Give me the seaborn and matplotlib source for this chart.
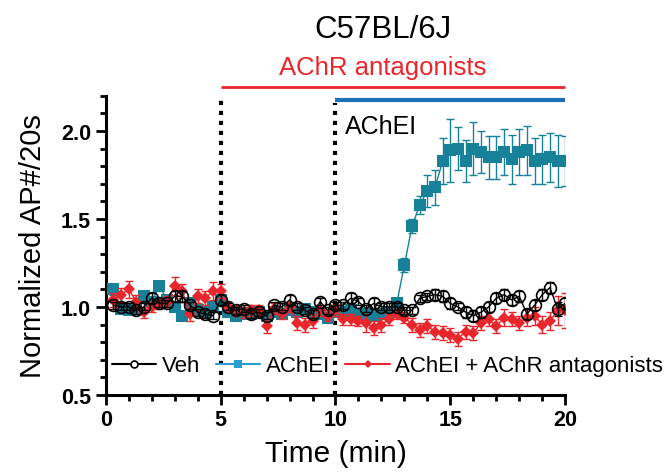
import numpy as np
import pandas as pd
import seaborn as sns
import matplotlib.pyplot as plt
from matplotlib.lines import Line2D
from matplotlib.ticker import MultipleLocator

# time points, one every 20 s
t = np.arange(1, 61) / 3.0

veh = [1.01, 1.00, 1.00, 0.98, 1.00, 1.05, 1.02, 1.02, 1.06, 1.06, 1.01, 0.97, 0.96, 0.95, 1.04,
       1.00, 0.98, 0.99, 0.96, 0.97, 0.95, 1.01, 1.00, 1.04, 1.00, 0.98, 0.96, 1.03, 0.98, 1.01,
       1.01, 1.05, 1.03, 0.99, 1.02, 1.00, 1.00, 1.00, 0.98, 0.98, 1.05, 1.06, 1.07, 1.06, 1.02,
       1.00, 0.97, 0.95, 0.97, 1.00, 1.05, 1.07, 1.04, 1.06, 0.96, 1.01, 1.07, 1.11, 0.99, 1.02]
veh_err = [0.02, 0.02, 0.02, 0.02, 0.02, 0.03, 0.02, 0.02, 0.03, 0.03, 0.02, 0.02, 0.02, 0.02, 0.03,
           0.02, 0.02, 0.02, 0.02, 0.02, 0.02, 0.02, 0.02, 0.03, 0.02, 0.02, 0.02, 0.02, 0.02, 0.02,
           0.02, 0.03, 0.02, 0.02, 0.03, 0.02, 0.02, 0.02, 0.02, 0.02, 0.02, 0.02, 0.03, 0.03, 0.03,
           0.02, 0.03, 0.03, 0.03, 0.03, 0.03, 0.03, 0.03, 0.03, 0.03, 0.03, 0.03, 0.03, 0.04, 0.03]

achei = [1.10, 0.99, 0.98, 0.99, 1.06, 1.03, 1.12, 1.04, 1.00, 0.95, 1.02, 0.98, 0.97, 1.00, 1.04,
         0.97, 0.95, 0.96, 0.96, 0.97, 0.95, 0.97, 0.96, 0.98, 0.97, 0.99, 0.97, 0.96, 0.94, 0.97,
         0.97, 0.98, 0.96, 0.96, 0.95, 0.96, 0.97, 1.02,
         1.24, 1.46, 1.58, 1.66, 1.68, 1.83, 1.89, 1.90, 1.83, 1.90, 1.88, 1.85, 1.85, 1.88, 1.84,
         1.88, 1.89, 1.83, 1.84, 1.85, 1.83, 1.83]
achei_err = [0.03, 0.02, 0.02, 0.02, 0.03, 0.02, 0.03, 0.02, 0.02, 0.02, 0.02, 0.02, 0.02, 0.02, 0.03,
             0.02, 0.02, 0.02, 0.02, 0.02, 0.02, 0.02, 0.02, 0.02, 0.02, 0.02, 0.02, 0.02, 0.02, 0.02,
             0.02, 0.02, 0.02, 0.02, 0.02, 0.02, 0.02, 0.03,
             0.04, 0.04, 0.05, 0.09, 0.10, 0.13, 0.18, 0.12, 0.12, 0.15, 0.12, 0.12, 0.12, 0.13, 0.14,
             0.13, 0.14, 0.13, 0.14, 0.14, 0.15, 0.14]

combo = [1.04, 1.07, 1.10, 1.03, 0.97, 1.00, 1.02, 1.03, 1.12, 1.09, 0.96, 1.06, 1.05, 1.09, 1.09,
         1.00, 0.98, 0.97, 0.98, 0.98, 0.89, 0.99, 0.96, 1.00, 0.91, 0.90, 0.92, 0.98, 0.95, 0.98,
         0.93, 0.93, 0.92, 0.91, 0.88, 0.90, 0.93, 0.96, 0.94, 0.90, 0.87, 0.89, 0.86, 0.85, 0.84,
         0.82, 0.86, 0.85, 0.91, 0.93, 0.89, 0.94, 0.93, 0.91, 0.94, 0.95, 0.90, 0.92, 0.98, 0.98]
combo_err = [0.04, 0.04, 0.05, 0.04, 0.03, 0.03, 0.03, 0.03, 0.05, 0.04, 0.04, 0.04, 0.04, 0.05, 0.04,
             0.03, 0.03, 0.03, 0.03, 0.03, 0.04, 0.03, 0.03, 0.03, 0.04, 0.04, 0.04, 0.03, 0.03, 0.03,
             0.03, 0.03, 0.03, 0.05, 0.04, 0.04, 0.03, 0.03, 0.03, 0.04, 0.04, 0.04, 0.04, 0.04, 0.04,
             0.04, 0.04, 0.04, 0.04, 0.04, 0.04, 0.05, 0.04, 0.04, 0.05, 0.05, 0.05, 0.05, 0.08, 0.10]

df = pd.DataFrame({'t': t, 'veh': veh, 'achei': achei, 'combo': combo})

teal = '#17819a'
red = '#e8262b'
blue = '#1b72b8'

sns.set_style('ticks')
plt.rcParams['font.family'] = ['Liberation Sans', 'DejaVu Sans']
for k in ['text.color', 'axes.labelcolor', 'xtick.color', 'ytick.color', 'axes.edgecolor']:
    plt.rcParams[k] = 'black'

fig = plt.figure(figsize=(6.65, 4.77), dpi=100)
ax = fig.add_axes([0.159, 0.17, 0.691, 0.627])

# AChEI
ax.errorbar(t, achei, yerr=achei_err, fmt='none', ecolor=teal, elinewidth=1, capsize=3, capthick=1, zorder=2)
sns.lineplot(data=df, x='t', y='achei', ax=ax, color=teal, linewidth=1, marker='s', markersize=8.5,
             markeredgewidth=0, zorder=3)
# AChEI + AChR antagonists
ax.errorbar(t, combo, yerr=combo_err, fmt='none', ecolor=red, elinewidth=1, capsize=3, capthick=1, zorder=4)
sns.lineplot(data=df, x='t', y='combo', ax=ax, color=red, linewidth=1, marker='D', markersize=6.5,
             markeredgewidth=0, zorder=5)
# Veh
ax.errorbar(t, veh, yerr=veh_err, fmt='none', ecolor='black', elinewidth=1, capsize=3, capthick=1, zorder=6)
sns.lineplot(data=df, x='t', y='veh', ax=ax, color='black', linewidth=1, marker='o', markersize=8.5,
             markerfacecolor='none', markeredgecolor='black', markeredgewidth=1.2, zorder=7)

ax.set_xlim(0, 20)
ax.set_ylim(0.5, 2.2)
ax.xaxis.set_major_locator(MultipleLocator(5))
ax.xaxis.set_minor_locator(MultipleLocator(1))
ax.yaxis.set_major_locator(MultipleLocator(0.5))
ax.yaxis.set_minor_locator(MultipleLocator(0.1))
ax.tick_params(which='major', length=7, width=2, labelsize=15.5, direction='out', color='black',
               labelcolor='black')
ax.tick_params(which='minor', length=4, width=2, direction='out', color='black')
for lab in ax.get_xticklabels() + ax.get_yticklabels():
    lab.set_fontweight('bold')
sns.despine(ax=ax)
for s in ['left', 'bottom']:
    ax.spines[s].set_linewidth(2.2)
    ax.spines[s].set_color('black')

ax.set_xlabel('Time (min)', fontsize=21.5, labelpad=6, color='black')
ax.set_ylabel('Normalized AP#/20s', fontsize=21, labelpad=10, color='black')

# treatment onsets
ax.axvline(5, ymin=0, ymax=1.0, color='black', linewidth=3, linestyle=(0, (1, 1.4)), zorder=1)
ax.axvline(10, ymin=0, ymax=0.975, color='black', linewidth=3, linestyle=(0, (1, 1.4)), zorder=1)

# treatment bars
ax.plot([5, 20], [2.251, 2.251], color=red, linewidth=2, clip_on=False, solid_capstyle='butt')
ax.plot([10, 20], [2.177, 2.177], color=blue, linewidth=3, clip_on=False, solid_capstyle='butt')
ax.text(10.4, 2.03, 'AChEI', fontsize=18, va='center', ha='left', color='black')
fig.text(0.576, 0.857, 'AChR antagonists', fontsize=18.5, color=red, ha='center', va='center')
fig.text(0.576, 0.937, 'C57BL/6J', fontsize=22.5, ha='center', va='center', color='black')

handles = [
    Line2D([], [], color='black', linewidth=1.5, marker='o', markersize=5,
           markerfacecolor='white', markeredgecolor='black', markeredgewidth=1.2),
    Line2D([], [], color='#2a9fcf', linewidth=1.5, marker='s', markersize=6, markeredgewidth=0),
    Line2D([], [], color=red, linewidth=1.5, marker='D', markersize=4.5, markeredgewidth=0),
]
ax.legend(handles, ['Veh', 'AChEI', 'AChEI + AChR antagonists'], loc='center left',
          bbox_to_anchor=(0.013, 0.097), ncol=3, frameon=False, fontsize=16,
          handlelength=2.0, handletextpad=0.25, columnspacing=0.7, borderaxespad=0,
          borderpad=0, labelcolor='black')

fig.savefig('out.png', dpi=100)
